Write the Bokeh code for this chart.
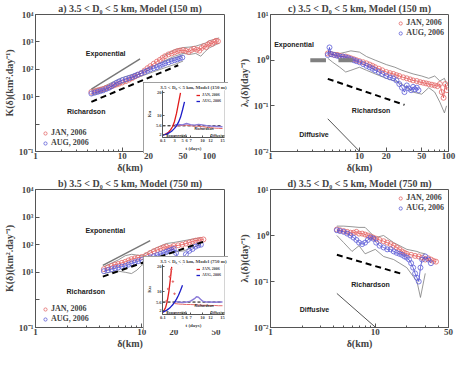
from bokeh.plotting import figure
from bokeh.models import GridBox, FixedTicker, CustomJSTickFormatter, Range1d, Legend, LegendItem
from bokeh.core.properties import value
from bokeh.embed import file_html
from bokeh.resources import INLINE

SERIF = "Liberation Serif"
SANS = "Liberation Sans"
JAN_C = "#e46a6a"
AUG_C = "#5f5fd8"
JAN_L = "#e01b1b"
AUG_L = "#1c1cc8"
GRAY = "#7c7c7c"

# ---------------- data: panel a (K, 150 m) ----------------
a_jan_d = [4.4, 4.8, 5.2, 5.6, 6.0, 6.5, 7.0, 7.5, 8.0, 8.6, 9.2, 10, 11, 12, 13, 14, 15, 16.5, 18, 19.5,
           21, 23, 25, 27, 29, 31, 34, 37, 40, 43, 46, 50, 54, 58, 62, 67, 72, 77, 82, 87, 92, 97, 102, 108, 114, 120, 126]
a_jan_k = [15, 16, 17, 18, 19, 21, 22, 24, 26, 28, 30, 33, 37, 42, 48, 55, 62, 72, 90, 110,
           130, 160, 190, 220, 260, 300, 350, 380, 420, 460, 480, 500, 470, 430, 500, 560, 520, 480, 600, 700, 650, 800, 900, 850, 1000, 1100, 1050]
a_aug_d = [4.4, 4.8, 5.2, 5.6, 6.0, 6.5, 7.0, 7.5, 8.0, 8.6, 9.2, 10, 11, 12, 13, 14, 15, 16.5, 18, 19.5,
           21, 23, 25, 27, 29, 31, 34, 37, 40, 43, 46, 49]
a_aug_k = [13, 14, 15, 16, 17, 19, 21, 24, 28, 32, 36, 40, 44, 48, 52, 58, 64, 72, 80, 90,
           100, 110, 120, 135, 150, 165, 180, 200, 215, 230, 250, 270]
a_env_d = [4.4, 6, 8, 10, 12, 15, 20, 25, 30, 40, 50]
a_env_hi = [17, 23, 36, 50, 60, 75, 110, 150, 190, 260, 320]
a_env_lo = [11, 15, 22, 30, 38, 50, 70, 90, 110, 150, 200]
a_env2_d = [30, 40, 50, 60, 70, 80, 90, 100, 110, 120, 130]
a_env2_hi = [320, 520, 620, 650, 700, 800, 900, 1100, 1200, 1300, 1400]
a_env2_lo = [200, 300, 380, 350, 380, 300, 450, 600, 700, 800, 900]
a_exp_d = [4.4, 16]
a_exp_k = [19, 240]
a_ric_d = [4.4, 44]
a_ric_k = [6.5, 140]

# ---------------- data: panel b (K, 750 m) ----------------
b_jan_d = [4.4, 4.8, 5.2, 5.6, 6.0, 6.5, 7.0, 7.5, 8.0, 8.6, 9.2, 10, 11, 12, 13, 14, 15, 16, 17, 18,
           19, 20, 22, 24, 26, 28, 30, 32, 34, 36, 38]
b_jan_k = [13, 15, 17, 19, 20, 22, 24, 27, 30, 32, 34, 36, 42, 50, 58, 65, 72, 80, 85, 75,
           80, 90, 95, 100, 110, 120, 130, 140, 145, 150, 155]
b_aug_d = [4.4, 4.8, 5.2, 5.6, 6.0, 6.5, 7.0, 7.5, 8.0, 8.6, 9.2, 10, 11, 12, 13, 14, 15, 16, 17, 18,
           19, 20, 21, 22, 23, 24, 26, 28, 30, 32, 34, 36]
b_aug_k = [11, 12, 13, 14, 15, 16, 17, 19, 21, 23, 25, 28, 31, 35, 38, 42, 46, 50, 55, 60,
           65, 70, 50, 30, 20, 28, 45, 60, 70, 85, 95, 100]
b_env_d = [4.4, 5, 6, 7, 8, 9, 10, 12, 14, 17, 20, 25, 30, 36]
b_env_hi = [16, 20, 28, 40, 45, 42, 40, 60, 80, 110, 120, 140, 160, 180]
b_env_lo = [9, 10, 11, 10, 9, 12, 18, 28, 35, 45, 55, 60, 80, 100]
b_exp_d = [4.3, 12]
b_exp_k = [18, 140]
b_ric_d = [4.3, 40]
b_ric_k = [7, 137]

# ---------------- data: panel c (lambda, 150 m) ----------------
c_jan_d = [4.4, 4.8, 5.2, 5.6, 6.0, 6.5, 7.0, 7.5, 8.0, 8.6, 9.2, 10, 11, 12, 13, 14, 15, 16.5, 18, 20,
           22, 24, 26, 28, 31, 34, 37, 40, 44, 48, 52, 56, 60, 65, 70, 75, 80, 84, 88, 92, 96]
c_jan_l = [1.4, 1.35, 1.3, 1.3, 1.25, 1.2, 1.2, 1.15, 1.1, 1.05, 1.0, 0.95, 0.9, 0.85, 0.8, 0.75, 0.7, 0.65, 0.6, 0.55,
           0.52, 0.5, 0.47, 0.45, 0.42, 0.4, 0.38, 0.36, 0.35, 0.33, 0.32, 0.31, 0.3, 0.29, 0.28, 0.27, 0.3, 0.2, 0.15, 0.3, 0.22]
c_aug_d = [4.4, 4.6, 4.8, 5.2, 5.6, 6.0, 6.5, 7.0, 7.5, 8.0, 8.6, 9.2, 10, 11, 12, 13, 14, 15, 16.5, 18,
           20, 22, 24, 26, 28, 30, 32, 34, 36, 38, 40, 42, 44, 46]
c_aug_l = [1.3, 1.9, 1.35, 1.3, 1.25, 1.2, 1.2, 1.15, 1.1, 1.05, 1.0, 0.95, 0.9, 0.82, 0.75, 0.7, 0.65, 0.6, 0.55, 0.5,
           0.45, 0.42, 0.4, 0.36, 0.3, 0.25, 0.2, 0.28, 0.24, 0.22, 0.26, 0.23, 0.25, 0.22]
c_env_d = [4.4, 5, 6, 7, 8, 10, 12, 15, 20, 25, 30, 40, 50, 60, 70, 80, 90, 95]
c_env_hi = [1.6, 1.5, 1.4, 1.5, 1.6, 1.5, 1.2, 1.0, 0.8, 0.7, 0.6, 0.5, 0.45, 0.4, 0.45, 0.35, 0.4, 0.3]
c_env_lo = [1.1, 0.9, 0.7, 0.55, 0.6, 0.7, 0.6, 0.5, 0.4, 0.35, 0.3, 0.2, 0.18, 0.25, 0.2, 0.12, 0.07, 0.1]
c_bar1_d = [2.8, 4.2]
c_bar2_d = [5.8, 8.4]
c_bar_l = [1.0, 1.0]
c_ric_d = [4.4, 32]
c_ric_l = [0.39, 0.105]
c_dif_d = [4.4, 10]
c_dif_l = [0.052, 0.0101]

# ---------------- data: panel d (lambda, 750 m) ----------------
d_jan_d = [4.3, 4.6, 5.0, 5.4, 5.8, 6.2, 6.6, 7.0, 7.5, 8.0, 8.5, 9.0, 9.6, 10.2, 11, 12, 13, 14, 15, 16,
           17, 18, 19, 20, 22, 24, 26, 28, 30, 32, 34, 36, 38]
d_jan_l = [1.35, 1.3, 1.25, 1.2, 1.15, 1.15, 1.2, 1.1, 1.1, 1.05, 1.0, 0.95, 0.9, 0.85, 0.8, 0.75, 0.7, 0.65, 0.6, 0.55,
           0.5, 0.45, 0.42, 0.4, 0.38, 0.36, 0.35, 0.33, 0.3, 0.32, 0.3, 0.28, 0.27]
d_aug_d = [4.3, 4.6, 5.0, 5.4, 5.8, 6.2, 6.6, 7.0, 7.5, 8.0, 8.5, 9.0, 9.6, 10.2, 11, 12, 13, 14, 15, 16,
           17, 18, 19, 20, 21, 22, 23, 24, 25, 26, 27, 28, 30, 32, 34]
d_aug_l = [1.3, 1.25, 1.2, 1.1, 1.0, 0.9, 0.8, 0.7, 0.65, 0.7, 0.8, 0.9, 0.85, 0.7, 0.6, 0.55, 0.5, 0.5, 0.45, 0.42,
           0.4, 0.38, 0.35, 0.33, 0.3, 0.25, 0.2, 0.15, 0.12, 0.1, 0.2, 0.3, 0.35, 0.3, 0.25]
d_env_d = [4.3, 5, 6, 7, 8, 10, 12, 15, 20, 25, 27, 30]
d_env_hi = [1.6, 1.6, 1.55, 1.5, 1.5, 0.9, 1.0, 0.7, 0.5, 0.45, 0.42, 0.4]
d_env_lo = [1.0, 0.7, 0.45, 0.6, 0.4, 0.5, 0.35, 0.3, 0.2, 0.1, 0.045, 0.15]
d_ric_d = [4.3, 18]
d_ric_l = [0.38, 0.146]
d_dif_d = [4.3, 10]
d_dif_l = [0.055, 0.0102]

# ---------------- data: insets (Ku vs t) ----------------
ins_xticks = [0.1, 3, 5, 6, 7, 10, 12, 15]
ins_yticks = [2, 5.6, 10, 20]
ku_ref = [5.6, 5.6]
ku_ref_t = [0, 15]
ia_jan_t = [0.1, 0.5, 1.0, 1.5, 2.0, 2.5, 3.0, 3.5, 4.0, 4.5]
ia_jan_ku = [1.5, 1.8, 2.2, 2.8, 3.8, 5.2, 7.5, 11, 15.5, 20]
ia_aug_t = [0.1, 0.5, 1.0, 1.5, 2.0, 2.5, 3.0, 3.5, 4.0, 4.5, 5.0, 5.5]
ia_aug_ku = [1.5, 1.7, 2.0, 2.4, 2.9, 3.6, 4.5, 5.6, 7.2, 9.3, 12.5, 16]
ia_flat_t = [3, 4, 5, 6, 7, 8, 9, 10, 11, 12, 13, 14, 15]
ia_aug_flat = [6.0, 6.2, 6.0, 6.6, 6.1, 5.9, 6.2, 6.0, 5.7, 5.5, 5.4, 5.3, 5.2]
ia_jan_flat = [5.4, 5.6, 5.8, 5.9, 5.6, 5.5, 5.4, 5.2, 5.0, 4.8, 4.6, 4.5, 4.4]
ib_jan_t = [0.1, 0.4, 0.8, 1.2, 1.6, 2.0, 2.3]
ib_jan_ku = [1.5, 2.2, 3.5, 6, 10, 15.5, 20]
ib_jan_pt_t = [1.0, 1.4, 1.8, 2.2, 2.6, 3.0]
ib_jan_pt_ku = [6, 11, 16, 19, 14, 9]
ib_aug_t = [0.1, 0.5, 1.0, 1.5, 2.0, 2.5, 3.0, 3.5, 4.0, 4.5, 5.0]
ib_aug_ku = [1.5, 1.8, 2.2, 2.8, 3.5, 4.4, 5.5, 6.8, 8.4, 10.3, 12.5]
ib_flat_t = [3, 4, 5, 6, 7, 8, 8.5, 9, 9.5, 10, 11, 12, 13, 14, 15]
ib_aug_flat = [5.8, 5.6, 5.4, 5.6, 6.0, 7.0, 7.8, 7.6, 6.8, 6.0, 5.6, 5.6, 5.5, 5.6, 5.6]
ib_jan_flat = [5.0, 4.8, 4.7, 4.6, 4.6, 4.5, 4.5, 4.4, 4.4, 4.3, 4.3, 4.2, 4.2, 4.1, 4.1]


def sup_formatter(skip_zero):
    skip = "true" if skip_zero else "false"
    code = """
    const e = Math.round(Math.log10(tick));
    if (%s && e === 0) { return ""; }
    const m = {"-": "\u207b", "0": "\u2070", "1": "\u00b9", "2": "\u00b2", "3": "\u00b3", "4": "\u2074"};
    return "10" + String(e).split("").map(c => m[c]).join("");
    """ % skip
    return CustomJSTickFormatter(code=code)


def style_axis(ax, lab_size, title_size):
    ax.axis_line_color = "#555555"
    ax.major_tick_in = 4
    ax.major_tick_out = 0
    ax.minor_tick_in = 2
    ax.minor_tick_out = 0
    ax.major_tick_line_color = "#555555"
    ax.minor_tick_line_color = "#555555"
    ax.major_label_text_font = SERIF
    ax.major_label_text_font_style = "bold"
    ax.major_label_text_font_size = lab_size
    ax.axis_label_text_font = SERIF
    ax.axis_label_text_font_style = "bold"
    ax.axis_label_text_font_size = title_size
    ax.major_label_standoff = 2
    ax.axis_label_standoff = 1


def main_panel(title, x_end, yr, xticks, xminor, yticks, ylabel, skip0, h, bl, br, bt, bb):
    p = figure(width=229, height=h, x_axis_type="log", y_axis_type="log",
               x_range=Range1d(1, x_end), y_range=Range1d(*yr),
               output_backend="svg", toolbar_location=None,
               min_border_left=bl, min_border_right=br, min_border_top=bt, min_border_bottom=bb)
    p.title.text = title
    p.title.text_font = SERIF
    p.title.text_font_style = "bold"
    p.title.text_font_size = "10px"
    p.title.align = "center"
    p.title.standoff = 1
    p.xgrid.visible = False
    p.ygrid.visible = False
    p.outline_line_color = "#555555"
    p.background_fill_color = "white"
    p.border_fill_color = "white"
    p.xaxis.ticker = FixedTicker(ticks=xticks, minor_ticks=xminor)
    p.yaxis.ticker = FixedTicker(ticks=yticks, minor_ticks=[])
    p.xaxis.formatter = CustomJSTickFormatter(code="return String(tick);")
    p.yaxis.formatter = sup_formatter(skip0)
    p.xaxis.axis_label = "\u03b4(km)"
    p.yaxis.axis_label = ylabel
    style_axis(p.xaxis[0], "9px", "10px")
    style_axis(p.yaxis[0], "9px", "10px")
    p.xaxis[0].major_label_standoff = 1
    p.xaxis[0].axis_label_standoff = 0
    return p


def add_data(p, jd, jv, ad, av):
    p.line(jd, jv, line_color=JAN_L, line_width=0.8, line_alpha=0.8)
    rj = p.scatter(jd, jv, marker="circle", size=5, fill_color=None, line_color=JAN_C, line_width=0.9, line_alpha=0.9)
    p.line(ad, av, line_color=AUG_L, line_width=0.8, line_alpha=0.8)
    ra = p.scatter(ad, av, marker="circle", size=5, fill_color=None, line_color=AUG_C, line_width=0.9, line_alpha=0.9)
    return rj, ra


def add_legend(p, rj, ra, loc, size="8px", glyph=8, margin=0):
    leg = Legend(items=[LegendItem(label="JAN, 2006", renderers=[rj]),
                        LegendItem(label="AUG, 2006", renderers=[ra])],
                 location=loc)
    leg.label_text_font = SERIF
    leg.label_text_font_style = "bold"
    leg.label_text_font_size = size
    leg.glyph_width = glyph
    leg.glyph_height = glyph
    leg.label_height = glyph
    leg.label_standoff = 2
    leg.spacing = 1
    leg.padding = 0
    leg.margin = margin
    leg.background_fill_alpha = 0
    leg.border_line_alpha = 0
    p.add_layout(leg)


def label(p, x, y, t, size="7px"):
    p.text(x=[x], y=[y], text=[t], text_font=value(SANS), text_font_style="bold",
           text_font_size=size, text_baseline="middle", text_align="left", text_color="#222222")


XMIN_A = [2, 3, 4, 5, 6, 7, 8, 9, 30, 40, 60, 70, 80, 90]
XMIN_D = [2, 3, 4, 5, 6, 7, 8, 9, 20, 30, 40]
K_LABEL = "K(\u03b4)(km\u00b2.day\u207b\u00b9)"
L_LABEL = "\u03bb\u1d65(\u03b4)(day\u207b\u00b9)"

# ---- panel a ----
pa = main_panel("a) 3.5 < D\u2080 < 5 km, Model (150 m)", 150, (0.1, 1e4), [1, 10, 20, 50, 100], XMIN_A,
                [0.1, 1, 10, 100, 1000, 10000], K_LABEL, True, 175, 31, 5, 14, 22)
pa.line(a_env_d, a_env_hi, line_color=GRAY, line_width=0.8)
pa.line(a_env_d, a_env_lo, line_color=GRAY, line_width=0.8)
pa.line(a_env2_d, a_env2_hi, line_color=GRAY, line_width=0.8)
pa.line(a_env2_d, a_env2_lo, line_color=GRAY, line_width=0.8)
rj, ra = add_data(pa, a_jan_d, a_jan_k, a_aug_d, a_aug_k)
pa.line(a_exp_d, a_exp_k, line_color="#777777", line_width=1.4)
pa.line(a_ric_d, a_ric_k, line_color="black", line_width=2, line_dash="6 4")
label(pa, 3.8, 380, "Exponential")
label(pa, 2.3, 2.8, "Richardson")
add_legend(pa, rj, ra, (6, 4))

# ---- panel b ----
pb = main_panel("b) 3.5 < D\u2080 < 5 km, Model (750 m)", 60, (0.1, 1e4), [1, 10, 20, 50], XMIN_D,
                [0.1, 1, 10, 100, 1000, 10000], K_LABEL, True, 176, 31, 5, 14, 22)
pb.line(b_env_d, b_env_hi, line_color=GRAY, line_width=0.8)
pb.line(b_env_d, b_env_lo, line_color=GRAY, line_width=0.8)
rj, ra = add_data(pb, b_jan_d, b_jan_k, b_aug_d, b_aug_k)
pb.line(b_exp_d, b_exp_k, line_color="#777777", line_width=1.4)
pb.line(b_ric_d, b_ric_k, line_color="black", line_width=2, line_dash="6 4")
label(pb, 2.95, 320, "Exponential")
label(pb, 1.96, 2.0, "Richardson")
add_legend(pb, rj, ra, (6, 4))

# ---- panel c ----
pc = main_panel("c) 3.5 < D\u2080 < 5 km, Model (150 m)", 100, (0.01, 10), [1, 10, 20, 50, 100], XMIN_A,
                [0.01, 0.1, 1, 10], L_LABEL, False, 175, 41, 10, 14, 22)
pc.line(c_env_d, c_env_hi, line_color=GRAY, line_width=0.8)
pc.line(c_env_d, c_env_lo, line_color=GRAY, line_width=0.8)
rj, ra = add_data(pc, c_jan_d, c_jan_l, c_aug_d, c_aug_l)
pc.line(c_bar1_d, c_bar_l, line_color="#808080", line_width=4)
pc.line(c_bar2_d, c_bar_l, line_color="#808080", line_width=4)
pc.line(c_ric_d, c_ric_l, line_color="black", line_width=2, line_dash="6 4")
pc.line(c_dif_d, c_dif_l, line_color="#555555", line_width=1)
label(pc, 1.1, 2.2, "Exponential")
label(pc, 8.2, 0.078, "Richardson")
label(pc, 2.1, 0.023, "Diffusive")
add_legend(pc, rj, ra, "top_right", margin=4)

# ---- panel d ----
pd = main_panel("d) 3.5 < D\u2080 < 5 km, Model (750 m)", 50, (0.01, 10), [1, 10, 50], XMIN_D,
                [0.01, 0.1, 1, 10], L_LABEL, False, 176, 41, 9, 14, 22)
pd.line(d_env_d, d_env_hi, line_color=GRAY, line_width=0.8)
pd.line(d_env_d, d_env_lo, line_color=GRAY, line_width=0.8)
rj, ra = add_data(pd, d_jan_d, d_jan_l, d_aug_d, d_aug_l)
pd.line(d_ric_d, d_ric_l, line_color="black", line_width=2, line_dash="6 4")
pd.line(d_dif_d, d_dif_l, line_color="#555555", line_width=1)
label(pd, 5.9, 0.085, "Richardson")
label(pd, 1.9, 0.025, "Diffusive")
add_legend(pd, rj, ra, "top_right", margin=4)


def inset(title, h):
    q = figure(width=85, height=h, x_range=Range1d(0, 15.5), y_range=Range1d(0.5, 21),
               output_backend="svg", toolbar_location=None,
               min_border_left=14, min_border_right=4, min_border_top=2, min_border_bottom=12,
               styles={"outline": "2px solid #808080", "outline-offset": "-2px"})
    q.title.text = title
    q.title.text_font = SERIF
    q.title.text_font_style = "bold"
    q.title.text_font_size = "5px"
    q.title.align = "center"
    q.title.standoff = 1
    q.title.offset = 0
    q.xgrid.visible = False
    q.ygrid.visible = False
    q.outline_line_color = None
    q.background_fill_color = "white"
    q.border_fill_color = "white"
    q.xaxis.ticker = FixedTicker(ticks=ins_xticks)
    q.yaxis.ticker = FixedTicker(ticks=ins_yticks)
    q.xaxis.formatter = CustomJSTickFormatter(code="return String(tick);")
    q.yaxis.formatter = CustomJSTickFormatter(code="return String(tick);")
    q.xaxis.axis_label = "t (days)"
    q.yaxis.axis_label = "Ku"
    for ax in (q.xaxis[0], q.yaxis[0]):
        style_axis(ax, "4.5px", "5px")
        ax.major_tick_in = 2
        ax.major_label_standoff = 1
        ax.axis_label_standoff = 1
    q.line(ku_ref_t, ku_ref, line_color="black", line_width=1, line_dash="3 2")
    return q


ia = inset("3.5 < D\u2080 < 5 km, Model (150 m)", 71)
ia.line(ia_flat_t, ia_jan_flat, line_color=JAN_C, line_width=1)
ia.line(ia_flat_t, ia_aug_flat, line_color="#8a7ad8", line_width=1.4)
rj = ia.line(ia_jan_t, ia_jan_ku, line_color=JAN_L, line_width=1.3)
ra = ia.line(ia_aug_t, ia_aug_ku, line_color=AUG_L, line_width=1.3)
label(ia, 1.0, 1.3, "Exponential", "3.5px")
label(ia, 8.0, 4.0, "Richardson", "3.5px")
label(ia, 12.0, 1.3, "Diffusive", "3.5px")
add_legend(ia, rj, ra, "top_right", size="4px", glyph=4, margin=2)

ib = inset("3.5 < D\u2080 < 5 km, Model (750 m)", 74)
ib.line(ib_flat_t, ib_jan_flat, line_color=JAN_C, line_width=1)
ib.line(ib_flat_t, ib_aug_flat, line_color="#8a7ad8", line_width=1.4)
rj = ib.line(ib_jan_t, ib_jan_ku, line_color=JAN_L, line_width=1.3)
ib.scatter(ib_jan_pt_t, ib_jan_pt_ku, marker="circle", size=1.5, color=JAN_C)
ra = ib.line(ib_aug_t, ib_aug_ku, line_color=AUG_L, line_width=1.3)
label(ib, 1.0, 1.3, "Exponential", "3.5px")
label(ib, 8.0, 4.0, "Richardson", "3.5px")
label(ib, 12.0, 1.3, "Diffusive", "3.5px")
add_legend(ib, rj, ra, "top_right", size="4px", glyph=4, margin=2)

grid = GridBox(children=[(pa, 0, 0, 3, 3), (ia, 1, 1, 1, 1), (pc, 0, 3, 3, 1),
                         (pb, 3, 0, 3, 3), (ib, 4, 1, 1, 1), (pd, 3, 3, 3, 1)],
               rows=["82px", "71px", "22px", "81px", "74px", "21px"],
               cols=["143px", "85px", "1px", "229px"], spacing=0)

open("out.html", "w", encoding="utf-8").write(file_html(grid, INLINE))
